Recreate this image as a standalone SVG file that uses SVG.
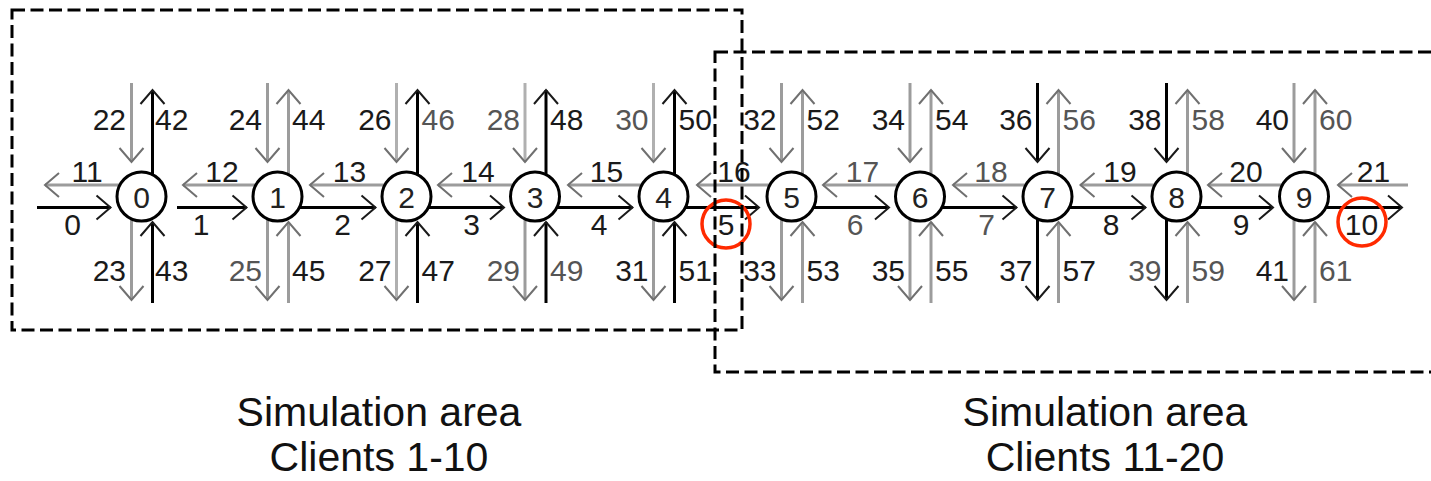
<svg xmlns="http://www.w3.org/2000/svg" width="1431" height="481" viewBox="0 0 1431 481">
<style>
.k{stroke:#000;stroke-width:3;fill:none;marker-end:url(#ak)}
.g{stroke:#9c9c9c;stroke-width:3;fill:none;marker-end:url(#ag)}
.lbl{font-family:"Liberation Sans",Arial,sans-serif;font-size:30px;fill:#1a1a1a}
.lg{fill:#555}
.e{text-anchor:end}
.m{text-anchor:middle}
.node circle{fill:#fff;stroke:#000;stroke-width:3}
.node text{font-family:"Liberation Sans",Arial,sans-serif;font-size:30px;fill:#222;text-anchor:middle}
.red{fill:none;stroke:#ff2a00;stroke-width:3.5}
.box{fill:none;stroke:#000;stroke-width:3;stroke-dasharray:13 5.5}
.cap{font-family:"Liberation Sans",Arial,sans-serif;font-size:41px;fill:#111;text-anchor:middle}
</style>
<defs>
<marker id="ak" markerUnits="userSpaceOnUse" markerWidth="32" markerHeight="32" viewBox="-16 -16 32 32" refX="0" refY="0" orient="auto" overflow="visible">
<path d="M-14,-12 L0,0 L-14,12" fill="none" stroke="#1a1a1a" stroke-width="2"/>
</marker>
<marker id="ag" markerUnits="userSpaceOnUse" markerWidth="32" markerHeight="32" viewBox="-16 -16 32 32" refX="0" refY="0" orient="auto" overflow="visible">
<path d="M-14,-12 L0,0 L-14,12" fill="none" stroke="#707070" stroke-width="2"/>
</marker>
</defs>
<rect width="1431" height="481" fill="#fff"/>
<g id="connectors">
<!-- node 0 verticals -->
<line class="g" x1="131.5" y1="83" x2="131.5" y2="162"/>
<line class="k" x1="152.5" y1="178" x2="152.5" y2="90"/>
<line class="g" x1="131.5" y1="215" x2="131.5" y2="300"/>
<line class="k" x1="152.5" y1="303" x2="152.5" y2="222"/>
<!-- node 1 -->
<line class="g" x1="267.5" y1="83" x2="267.5" y2="162"/>
<line class="g" x1="288.5" y1="178" x2="288.5" y2="90"/>
<line class="g" x1="267.5" y1="215" x2="267.5" y2="300"/>
<line class="g" x1="288.5" y1="303" x2="288.5" y2="222"/>
<!-- node 2 -->
<line class="g" x1="396.5" y1="83" x2="396.5" y2="162" style="stroke:#b0b0b0"/>
<line class="k" x1="417.5" y1="178" x2="417.5" y2="90"/>
<line class="g" x1="396.5" y1="215" x2="396.5" y2="300" style="stroke:#b0b0b0"/>
<line class="k" x1="417.5" y1="303" x2="417.5" y2="222"/>
<!-- node 3 -->
<line class="g" x1="525" y1="83" x2="525" y2="162" style="stroke:#b0b0b0"/>
<line class="k" x1="546" y1="178" x2="546" y2="90"/>
<line class="g" x1="525" y1="215" x2="525" y2="300"/>
<line class="k" x1="546" y1="303" x2="546" y2="222"/>
<!-- node 4 -->
<line class="g" x1="653.5" y1="83" x2="653.5" y2="162" style="stroke:#b0b0b0"/>
<line class="k" x1="674.5" y1="178" x2="674.5" y2="90"/>
<line class="g" x1="653.5" y1="215" x2="653.5" y2="300"/>
<line class="k" x1="674.5" y1="303" x2="674.5" y2="222"/>
<!-- node 5 -->
<line class="g" x1="781.5" y1="83" x2="781.5" y2="162"/>
<line class="g" x1="802.5" y1="178" x2="802.5" y2="90"/>
<line class="g" x1="781.5" y1="215" x2="781.5" y2="300"/>
<line class="g" x1="802.5" y1="303" x2="802.5" y2="222"/>
<!-- node 6 -->
<line class="g" x1="910" y1="83" x2="910" y2="162"/>
<line class="g" x1="931" y1="178" x2="931" y2="90"/>
<line class="g" x1="910" y1="215" x2="910" y2="300"/>
<line class="g" x1="931" y1="303" x2="931" y2="222"/>
<!-- node 7 -->
<line class="k" x1="1037.5" y1="83" x2="1037.5" y2="162"/>
<line class="g" x1="1058.5" y1="178" x2="1058.5" y2="90"/>
<line class="k" x1="1037.5" y1="215" x2="1037.5" y2="300"/>
<line class="g" x1="1058.5" y1="303" x2="1058.5" y2="222"/>
<!-- node 8 -->
<line class="k" x1="1166.5" y1="83" x2="1166.5" y2="162"/>
<line class="g" x1="1187.5" y1="178" x2="1187.5" y2="90"/>
<line class="k" x1="1166.5" y1="215" x2="1166.5" y2="300"/>
<line class="g" x1="1187.5" y1="303" x2="1187.5" y2="222"/>
<!-- node 9 -->
<line class="g" x1="1294" y1="83" x2="1294" y2="162"/>
<line class="g" x1="1315" y1="178" x2="1315" y2="90"/>
<line class="g" x1="1294" y1="215" x2="1294" y2="300"/>
<line class="g" x1="1315" y1="303" x2="1315" y2="222"/>
<!-- upper horizontals (leftward, gray) -->
<line class="g" x1="121.5" y1="185" x2="45" y2="185"/>
<line class="g" x1="257.5" y1="185" x2="183" y2="185"/>
<line class="g" x1="386.5" y1="185" x2="310" y2="185"/>
<line class="g" x1="515" y1="185" x2="438" y2="185"/>
<line class="g" x1="643.5" y1="185" x2="568" y2="185"/>
<line class="g" x1="771.5" y1="185" x2="697" y2="185"/>
<line class="g" x1="900" y1="185" x2="823" y2="185"/>
<line class="g" x1="1027.5" y1="185" x2="953" y2="185"/>
<line class="g" x1="1156.5" y1="185" x2="1080.5" y2="185"/>
<line class="g" x1="1284" y1="185" x2="1208" y2="185"/>
<line class="g" x1="1408" y1="185" x2="1338" y2="185"/>
<!-- lower horizontals (rightward, black) -->
<line class="k" x1="37" y1="207.5" x2="110.5" y2="207.5"/>
<line class="k" x1="177" y1="207.5" x2="246.5" y2="207.5"/>
<line class="k" x1="297.5" y1="207.5" x2="375.5" y2="207.5"/>
<line class="k" x1="426.5" y1="207.5" x2="504" y2="207.5"/>
<line class="k" x1="555" y1="207.5" x2="632.5" y2="207.5"/>
<line class="k" x1="683.5" y1="207.5" x2="759" y2="207.5"/>
<line class="k" x1="811.5" y1="207.5" x2="889" y2="207.5"/>
<line class="k" x1="940" y1="207.5" x2="1016.5" y2="207.5"/>
<line class="k" x1="1067.5" y1="207.5" x2="1145.5" y2="207.5"/>
<line class="k" x1="1196.5" y1="207.5" x2="1273" y2="207.5"/>
<line class="k" x1="1324" y1="207.5" x2="1402" y2="207.5"/>
</g>
<g id="connector-labels" class="lbl">
<!-- top labels -->
<text class="e" x="126" y="130">22</text><text x="155" y="130">42</text>
<text class="e" x="262" y="130">24</text><text x="292" y="130">44</text>
<text class="e" x="391.5" y="130">26</text><text class="lg" x="421.5" y="130">46</text>
<text class="e lg" x="520" y="130">28</text><text x="550" y="130">48</text>
<text class="e lg" x="648.5" y="130">30</text><text x="678.5" y="130">50</text>
<text class="e" x="776.5" y="130">32</text><text x="806.5" y="130">52</text>
<text class="e" x="905" y="130">34</text><text x="935" y="130">54</text>
<text class="e" x="1032.5" y="130">36</text><text class="lg" x="1062.5" y="130">56</text>
<text class="e" x="1161.5" y="130">38</text><text class="lg" x="1191.5" y="130">58</text>
<text class="e" x="1289" y="130">40</text><text class="lg" x="1319" y="130">60</text>
<!-- bottom labels -->
<text class="e" x="126" y="281">23</text><text x="155" y="281">43</text>
<text class="e lg" x="262" y="281">25</text><text x="292" y="281">45</text>
<text class="e" x="391.5" y="281">27</text><text x="421.5" y="281">47</text>
<text class="e lg" x="520" y="281">29</text><text class="lg" x="550" y="281">49</text>
<text class="e" x="648.5" y="281">31</text><text x="678.5" y="281">51</text>
<text class="e" x="776.5" y="281">33</text><text x="806.5" y="281">53</text>
<text class="e" x="905" y="281">35</text><text x="935" y="281">55</text>
<text class="e" x="1032.5" y="281">37</text><text x="1062.5" y="281">57</text>
<text class="e lg" x="1161.5" y="281">39</text><text class="lg" x="1191.5" y="281">59</text>
<text class="e" x="1289" y="281">41</text><text class="lg" x="1319" y="281">61</text>
<!-- upper horizontal labels -->
<text class="m" x="87" y="182">11</text>
<text class="m" x="222" y="182">12</text>
<text class="m" x="349.5" y="182">13</text>
<text class="m" x="478" y="182">14</text>
<text class="m" x="606.5" y="182">15</text>
<text class="m" x="734" y="182">16</text>
<text class="m lg" x="862.5" y="182">17</text>
<text class="m lg" x="991" y="182">18</text>
<text class="m" x="1120" y="182">19</text>
<text class="m" x="1246" y="182">20</text>
<text class="m" x="1373.5" y="182">21</text>
<!-- lower horizontal labels -->
<text class="m" x="72.5" y="235">0</text>
<text class="m" x="201" y="235">1</text>
<text class="m" x="342.5" y="235">2</text>
<text class="m" x="471.5" y="235">3</text>
<text class="m" x="599" y="235">4</text>
<text class="m" x="726" y="235">5</text>
<text class="m lg" x="855" y="235">6</text>
<text class="m lg" x="986.5" y="235">7</text>
<text class="m" x="1111" y="235">8</text>
<text class="m" x="1241" y="235">9</text>
<text class="m" x="1361.5" y="235">10</text>
</g>
<g id="node0" class="node"><circle cx="141.5" cy="196.5" r="24.5"/><text x="141.5" y="207.5">0</text></g>
<g id="node1" class="node"><circle cx="277.5" cy="196.5" r="24.5"/><text x="277.5" y="207.5">1</text></g>
<g id="node2" class="node"><circle cx="406.5" cy="196.5" r="24.5"/><text x="406.5" y="207.5">2</text></g>
<g id="node3" class="node"><circle cx="535" cy="196.5" r="24.5"/><text x="535" y="207.5">3</text></g>
<g id="node4" class="node"><circle cx="663.5" cy="196.5" r="24.5"/><text x="663.5" y="207.5">4</text></g>
<g id="node5" class="node"><circle cx="791.5" cy="196.5" r="24.5"/><text x="791.5" y="207.5">5</text></g>
<g id="node6" class="node"><circle cx="920" cy="196.5" r="24.5"/><text x="920" y="207.5">6</text></g>
<g id="node7" class="node"><circle cx="1047.5" cy="196.5" r="24.5"/><text x="1047.5" y="207.5">7</text></g>
<g id="node8" class="node"><circle cx="1176.5" cy="196.5" r="24.5"/><text x="1176.5" y="207.5">8</text></g>
<g id="node9" class="node"><circle cx="1304" cy="196.5" r="24.5"/><text x="1304" y="207.5">9</text></g>
<g id="highlights">
<circle class="red" cx="726" cy="224" r="24"/>
<circle class="red" cx="1362" cy="222" r="24"/>
</g>
<g id="area1">
<rect class="box" x="12" y="10" width="730" height="320"/>
<text class="cap" x="379" y="426">Simulation area</text>
<text class="cap" x="379" y="471">Clients 1-10</text>
</g>
<g id="area2">
<rect class="box" x="715" y="52" width="740" height="320"/>
<text class="cap" x="1105" y="426">Simulation area</text>
<text class="cap" x="1105" y="471">Clients 11-20</text>
</g>
</svg>
